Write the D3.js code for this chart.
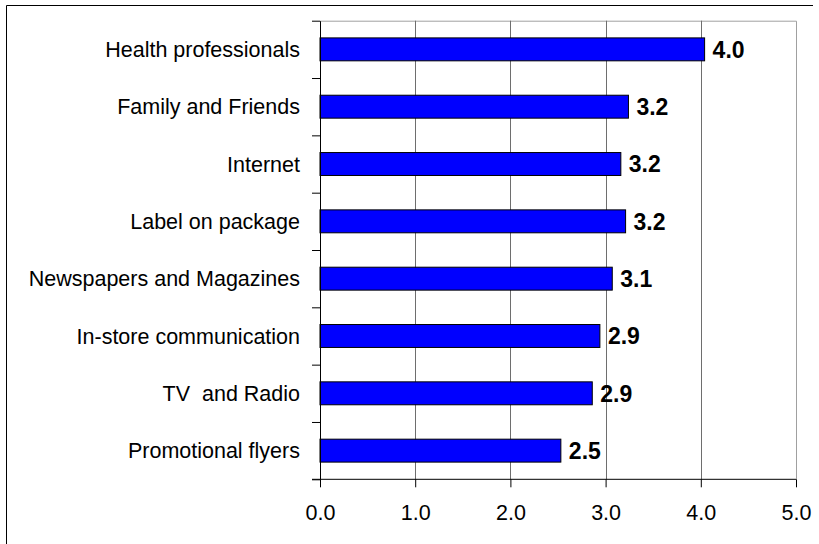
<!DOCTYPE html>
<html>
<head>
<meta charset="utf-8">
<script src="https://cdn.jsdelivr.net/npm/d3@7"></script>
<style>
  html, body { margin: 0; padding: 0; background: #fff; }
  svg { display: block; font-family: "Liberation Sans", Arial, sans-serif; }
  text { white-space: pre; }
</style>
</head>
<body>
<svg id="chart" width="819" height="544"></svg>
<script>
// Information sources, mean rating (0–5)
const categories = [
  "Health professionals",
  "Family and Friends",
  "Internet",
  "Label on package",
  "Newspapers and Magazines",
  "In-store communication",
  "TV  and Radio",
  "Promotional flyers"
];
const values = [4.04, 3.24, 3.16, 3.21, 3.07, 2.94, 2.86, 2.53];
const xTicks = [0, 1, 2, 3, 4, 5];

const svg = d3.select("#chart");
const W = 819, H = 544;
const plot = { left: 320, right: 796, top: 20.7, bottom: 479.3 };

// outer frame (top and left edges)
svg.append("line").attr("x1", 6.5).attr("x2", 813).attr("y1", 5.5).attr("y2", 5.5)
  .attr("stroke", "#000").attr("stroke-width", 1);
svg.append("line").attr("x1", 6.5).attr("x2", 6.5).attr("y1", 5.5).attr("y2", H)
  .attr("stroke", "#000").attr("stroke-width", 1);

const x = d3.scaleLinear().domain([0, 5]).range([plot.left, plot.right]);
const y = d3.scaleBand().domain(categories).range([plot.top, plot.bottom])
  .paddingInner(0.6).paddingOuter(0.3);
const yIdx = d3.scaleLinear().domain([0, categories.length]).range([plot.top, plot.bottom]);

// plot area border (top / right)
svg.append("path")
  .attr("d", `M${plot.left},${plot.top + 0.5}H${plot.right + 0.5}V${plot.bottom}`)
  .attr("fill", "none").attr("stroke", "#a0a0a0").attr("stroke-width", 1);

// vertical gridlines
svg.append("g").selectAll("line")
  .data(xTicks.filter(t => t > 0 && t < 5))
  .join("line")
  .attr("x1", d => Math.round(x(d)) + 0.5).attr("x2", d => Math.round(x(d)) + 0.5)
  .attr("y1", plot.top).attr("y2", plot.bottom)
  .attr("stroke", "#6e6e6e").attr("stroke-width", 1);

// bars
svg.append("g").selectAll("rect")
  .data(categories)
  .join("rect")
  .attr("x", x(0))
  .attr("y", d => y(d))
  .attr("width", (d, i) => x(values[i]) - x(0))
  .attr("height", y.bandwidth())
  .attr("fill", "#0000ff")
  .attr("stroke", "#000")
  .attr("stroke-width", 1);

// value labels
const fmt = d3.format(".1f");
svg.append("g").selectAll("text")
  .data(categories)
  .join("text")
  .attr("x", (d, i) => x(values[i]) + 8)
  .attr("y", d => y(d) + y.bandwidth() / 2)
  .attr("dy", "0.36em")
  .attr("font-size", "23px")
  .attr("font-weight", "bold")
  .attr("fill", "#000")
  .text((d, i) => fmt(values[i]));

// category axis (ticks at band boundaries)
const yAxis = svg.append("g")
  .attr("transform", `translate(${plot.left},0)`)
  .call(d3.axisLeft(yIdx).tickValues(d3.range(categories.length + 1))
    .tickFormat("").tickSize(8).tickSizeOuter(0));
yAxis.select(".domain").attr("stroke", "#000");
yAxis.selectAll(".tick line").attr("stroke", "#000");

// category labels
svg.append("g").selectAll("text")
  .data(categories)
  .join("text")
  .attr("x", 300)
  .attr("y", d => y(d) + y.bandwidth() / 2)
  .attr("dy", "0.36em")
  .attr("text-anchor", "end")
  .attr("font-size", "21.5px")
  .attr("fill", "#000")
  .text(d => d);

// value axis
const xAxis = svg.append("g")
  .attr("transform", `translate(0,${plot.bottom})`)
  .call(d3.axisBottom(x).tickValues(xTicks).tickFormat(d3.format(".1f"))
    .tickSize(8).tickSizeOuter(0));
xAxis.select(".domain").attr("stroke", "#000").attr("d", `M${plot.left - 8},0H${plot.right}`);
xAxis.selectAll(".tick line").attr("stroke", "#000");
xAxis.selectAll(".tick text")
  .attr("y", 41).attr("dy", 0)
  .attr("font-size", "21.5px")
  .attr("font-family", "\"Liberation Sans\", Arial, sans-serif")
  .attr("fill", "#000");
</script>
</body>
</html>
